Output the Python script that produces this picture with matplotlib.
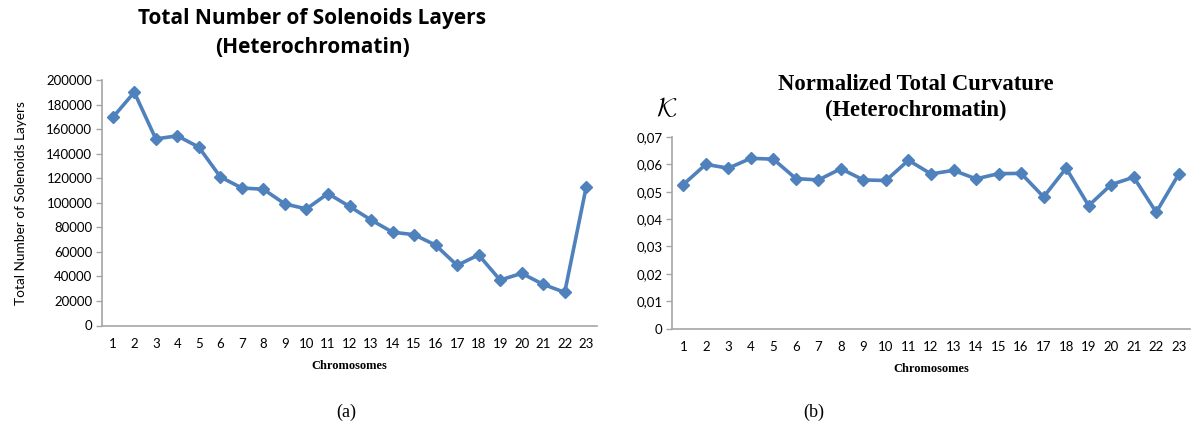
import matplotlib
matplotlib.use("Agg")
import matplotlib.pyplot as plt
from matplotlib.ticker import FuncFormatter

# data
chromosomes = list(range(1, 24))
solenoid_layers = [169500, 190000, 152000, 154500, 145300, 121000, 112000, 111000,
                   99000, 95000, 107500, 97000, 86000, 76000, 74000, 65500,
                   49000, 57500, 37000, 42500, 33500, 27000, 113000]
curvature = [0.0526, 0.0600, 0.0586, 0.0622, 0.0619, 0.0548, 0.0543, 0.0584,
             0.0543, 0.0541, 0.0615, 0.0565, 0.0578, 0.0547, 0.0566, 0.0567,
             0.0481, 0.0586, 0.0449, 0.0526, 0.0553, 0.0425, 0.0564]

W, H = 1194, 428
blue = "#4F81BD"
grey = "#A6A6A6"
tick_font = "Lato"
plt.rcParams["mathtext.fontset"] = "cm"

fig = plt.figure(figsize=(W / 100, H / 100), dpi=100)


def px_axes(x0, y_top, x1, y_bot):
    return fig.add_axes([x0 / W, 1 - y_bot / H, (x1 - x0) / W, (y_bot - y_top) / H])


def style(ax):
    for s in ["top", "right"]:
        ax.spines[s].set_visible(False)
    for s in ["left", "bottom"]:
        ax.spines[s].set_color(grey)
        ax.spines[s].set_linewidth(1.2)
    ax.tick_params(axis="x", length=0, pad=9, labelsize=9.5, colors="black")
    ax.tick_params(axis="y", length=4, color=grey, width=1, labelsize=9.5, pad=3)
    for lab in ax.get_xticklabels() + ax.get_yticklabels():
        lab.set_fontfamily(tick_font)
    ax.set_xlim(0.5, 23.5)
    ax.set_xticks(chromosomes)


# (a) solenoid layers
ax1 = px_axes(102, 80, 597, 325.5)
ax1.plot(chromosomes, solenoid_layers, color=blue, lw=2.6, marker="D", ms=6.5)
ax1.set_ylim(0, 200000)
ax1.set_yticks(range(0, 200001, 20000))
style(ax1)
ax1.set_ylabel("Total Number of Solenoids Layers", fontfamily=tick_font, fontsize=9.8, labelpad=14)
ax1.set_xlabel("Chromosomes", fontfamily="Liberation Serif", fontweight="bold", fontsize=9, labelpad=7)
fig.text(312 / W, 1 - 33 / H, "Total Number of Solenoids Layers\n(Heterochromatin)",
         ha="center", va="center", fontfamily="Open Sans", fontweight="bold",
         fontsize=15, linespacing=1.45)

# (b) curvature
ax2 = px_axes(672, 137, 1190, 328.5)
ax2.plot(chromosomes, curvature, color=blue, lw=2.6, marker="D", ms=6.5)
ax2.set_ylim(0, 0.07)
ax2.set_yticks([i / 100 for i in range(8)])
ax2.yaxis.set_major_formatter(FuncFormatter(lambda v, p: "0" if v == 0 else f"{v:.2f}".replace(".", ",")))
style(ax2)
ax2.set_xlabel("Chromosomes", fontfamily="Liberation Serif", fontweight="bold", fontsize=9, labelpad=7)
fig.text(916 / W, 1 - 97.5 / H, "Normalized Total Curvature\n(Heterochromatin)",
         ha="center", va="center", fontfamily="Liberation Serif", fontweight="bold",
         fontsize=16.3, linespacing=1.3)
fig.text(667 / W, 1 - 109 / H, r"$\mathcal{K}$", ha="center", va="center", fontsize=19)

# captions
fig.text(346 / W, 1 - 412 / H, "(a)", ha="center", va="center", fontfamily="Liberation Serif", fontsize=13)
fig.text(814 / W, 1 - 412 / H, "(b)", ha="center", va="center", fontfamily="Liberation Serif", fontsize=13)

fig.savefig("out.png", dpi=100)
